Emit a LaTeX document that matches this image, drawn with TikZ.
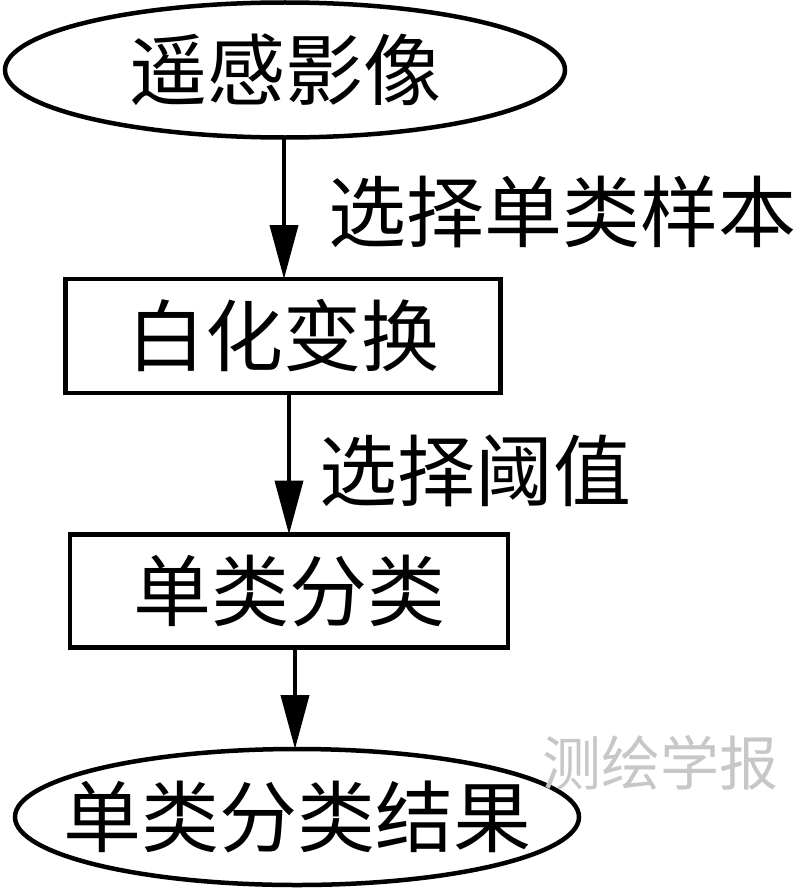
\documentclass[tikz,border=0pt]{standalone}
\usepackage{fontspec}
\setmainfont{Noto Sans CJK SC}
\usetikzlibrary{shapes.geometric,arrows.meta}
\begin{document}
\begin{tikzpicture}[x=1pt,y=-1pt,
  every node/.style={inner sep=0pt,outer sep=0pt},
  ovalnode/.style={ellipse,draw,line width=4.5pt,inner xsep=-60pt,font=\fontsize{78}{84}\selectfont},
  boxnode/.style={rectangle,draw,line width=4.5pt,font=\fontsize{78}{84}\selectfont},
  flowarrow/.style={line width=4pt,-{Triangle[length=54pt,width=28pt]}},
  lbl/.style={anchor=west,font=\fontsize{78}{84}\selectfont},
  wmark/.style={text=black!22,font=\fontsize{59}{64}\selectfont}]
\useasboundingbox (0,0) rectangle (800,891);
\node[ovalnode,minimum width=560pt,minimum height=135pt] (top) at (285,70) {遥感影像};
\node[boxnode,minimum width=435pt,minimum height=114pt] (white) at (283,336) {白化变换};
\node[boxnode,minimum width=438pt,minimum height=113pt] (single) at (289,591) {单类分类};
\node[ovalnode,minimum width=564pt,minimum height=136pt] (result) at (297,817) {单类分类结果};
\draw[flowarrow] (top.south -| 284,0) -- (white.north -| 284,0);
\draw[flowarrow] (white.south -| 289,0) -- (single.north -| 289,0);
\draw[flowarrow] (single.south -| 295,0) -- (result.north -| 295,0);
\node[lbl] (lab1) at (328,212) {选择单类样本};
\node[lbl] (lab2) at (319,471) {选择阈值};
\node[wmark] (wm) at (660,763) {测绘学报};
\end{tikzpicture}
\end{document}
